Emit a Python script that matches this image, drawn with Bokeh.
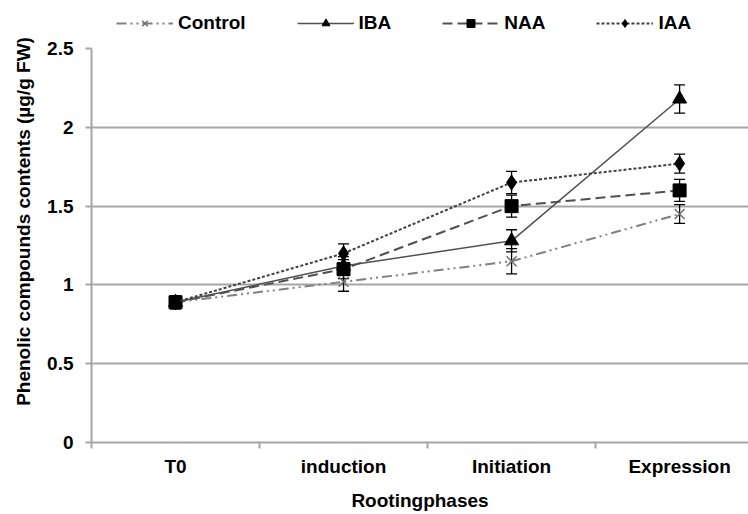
from bokeh.plotting import figure
from bokeh.models import (Range1d, FixedTicker, Legend, LegendItem, ColumnDataSource,
                          Whisker, TeeHead)
from bokeh.embed import file_html
from bokeh.resources import INLINE

categories = ["T0", "induction", "Initiation", "Expression"]
control = [0.89, 1.02, 1.15, 1.45]
control_err = [0.04, 0.06, 0.08, 0.06]
iba = [0.89, 1.12, 1.28, 2.18]
iba_err = [0.04, 0.06, 0.07, 0.09]
naa = [0.89, 1.10, 1.50, 1.60]
naa_err = [0.04, 0.06, 0.07, 0.07]
iaa = [0.89, 1.20, 1.65, 1.77]
iaa_err = [0.04, 0.06, 0.07, 0.06]
y_ticks = [0, 0.5, 1, 1.5, 2, 2.5]
y_tick_labels = ["0", "0.5", "1", "1.5", "2", "2.5"]

FONT = "Liberation Sans"
FS = "19px"
GRID = "#a6a6a6"

# frame spans the full height above the x axis; the value axis is bounded to 0..2.5
p = figure(width=748, height=514, output_backend="svg", toolbar_location=None,
           x_range=Range1d(-0.5, 3.41), y_range=Range1d(0, 2.805),
           min_border_left=91, min_border_right=0, min_border_top=0,
           min_border_bottom=72)
p.outline_line_color = None
p.xgrid.grid_line_color = None
p.ygrid.ticker = FixedTicker(ticks=[0.5, 1, 1.5, 2])
p.ygrid.grid_line_color = GRID
p.ygrid.grid_line_width = 2

xs = list(range(len(categories)))

# y axis
p.yaxis.ticker = FixedTicker(ticks=y_ticks)
p.yaxis.bounds = (0, 2.5)
p.yaxis.major_label_overrides = {t: l for t, l in zip(y_ticks, y_tick_labels)}
p.yaxis.axis_line_color = GRID
p.yaxis.axis_line_width = 2
p.yaxis.major_tick_line_color = GRID
p.yaxis.major_tick_line_width = 2
p.yaxis.major_tick_out = 6
p.yaxis.major_tick_in = 0
p.yaxis.minor_tick_line_color = None
p.yaxis.major_label_standoff = 12
p.yaxis.axis_label = "Phenolic compounds contents (µg/g FW)"
p.yaxis.axis_label_standoff = 10

# x axis
p.xaxis.ticker = FixedTicker(ticks=xs, minor_ticks=[-0.5, 0.5, 1.5, 2.5])
p.xaxis.major_label_overrides = {i: c for i, c in enumerate(categories)}
p.xaxis.axis_line_color = GRID
p.xaxis.axis_line_width = 2
p.xaxis.major_tick_line_color = None
p.xaxis.minor_tick_line_color = GRID
p.xaxis.minor_tick_line_width = 2
p.xaxis.minor_tick_out = 6
p.xaxis.minor_tick_in = 0
p.xaxis.major_label_standoff = 7
p.xaxis.axis_label = "Rootingphases"
p.xaxis.axis_label_standoff = 10

for ax in (p.xaxis, p.yaxis):
    ax.major_label_text_font = FONT
    ax.major_label_text_font_size = FS
    ax.major_label_text_font_style = "bold"
    ax.major_label_text_color = "black"
    ax.axis_label_text_font = FONT
    ax.axis_label_text_font_size = FS
    ax.axis_label_text_font_style = "bold"
    ax.axis_label_text_color = "black"

series = [
    ("Control", control, control_err, "#808080", "10 4 2 4 2 4", 2, "x", "#707070", 14),
    ("IBA", iba, iba_err, "#505050", "solid", 1.5, "triangle", "black", 14),
    ("NAA", naa, naa_err, "#505050", "10 5", 2, "square", "black", 13),
    ("IAA", iaa, iaa_err, "#404040", "3 2", 2, "diamond", "black", 15),
]

items = []
for name, vals, errs, lc, dash, lw, marker, mc, ms in series:
    src = ColumnDataSource(dict(x=xs, y=vals,
                                upper=[v + e for v, e in zip(vals, errs)],
                                lower=[v - e for v, e in zip(vals, errs)]))
    lr = p.line("x", "y", source=src, line_color=lc, line_dash=dash, line_width=lw)
    w = Whisker(base="x", upper="upper", lower="lower", source=src,
                line_color="black", line_width=1.3,
                upper_head=TeeHead(size=11, line_color="black", line_width=1.3),
                lower_head=TeeHead(size=11, line_color="black", line_width=1.3))
    p.add_layout(w)
    sr = p.scatter("x", "y", source=src, marker=marker, size=ms,
                   fill_color=mc, line_color=mc, line_width=1.5 if marker == "x" else 1)
    items.append(LegendItem(label=name, renderers=[lr, sr]))

legend = Legend(items=items, orientation="horizontal", location=(25, 408),
                label_text_font=FONT, label_text_font_size=FS,
                label_text_font_style="bold", label_text_color="black",
                glyph_width=57, glyph_height=20, label_height=20,
                label_standoff=5, spacing=51, padding=4, margin=0,
                border_line_color=None, background_fill_alpha=0)
p.add_layout(legend, "center")

open("out.html", "w").write(file_html(p, INLINE))
